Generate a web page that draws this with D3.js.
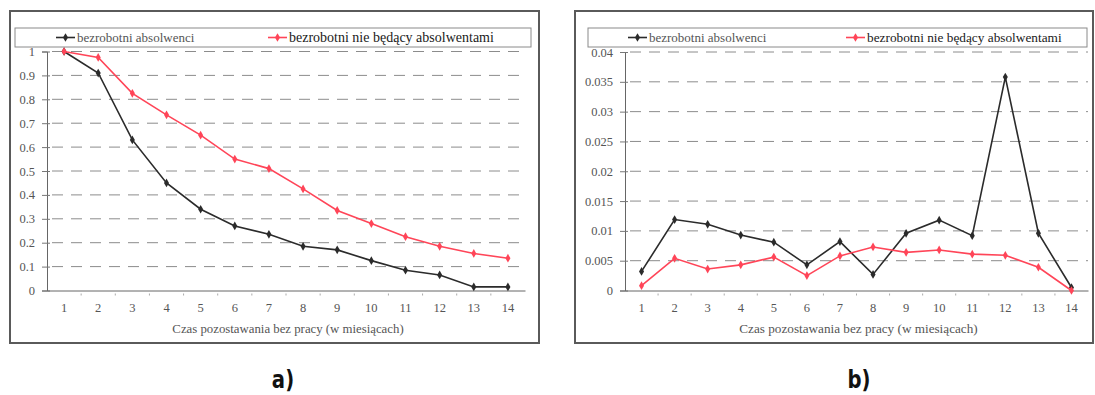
<!DOCTYPE html>
<html>
<head>
<meta charset="UTF-8">
<title>Bezrobotni - czas pozostawania bez pracy</title>
<script src="https://cdnjs.cloudflare.com/ajax/libs/d3/7.8.5/d3.min.js"></script>
<style>
  body { margin: 0; background: #fff; }
  svg { display: block; }
  .serif { font-family: "Liberation Serif", "Tinos", "Times New Roman", Times, serif; }
</style>
</head>
<body>
<script>
// months (x categories)
const months = d3.range(1, 15);

// panel a) – share still unemployed
const absolwenciA = [1.0, 0.91, 0.63, 0.45, 0.34, 0.27, 0.235, 0.185, 0.17, 0.125, 0.085, 0.065, 0.015, 0.015];
const nieAbsolwenciA = [1.0, 0.975, 0.825, 0.735, 0.65, 0.55, 0.51, 0.425, 0.335, 0.28, 0.225, 0.185, 0.155, 0.135];
const yTicksA = [0, 0.1, 0.2, 0.3, 0.4, 0.5, 0.6, 0.7, 0.8, 0.9, 1];

// panel b) – intensity of leaving unemployment
const absolwenciB = [0.0032, 0.0119, 0.0111, 0.0093, 0.0081, 0.0043, 0.0082, 0.0027, 0.0096, 0.0118, 0.0092, 0.0358, 0.0096, 0.0005];
const nieAbsolwenciB = [0.0008, 0.0054, 0.0036, 0.0043, 0.0056, 0.0025, 0.0058, 0.0073, 0.0064, 0.0068, 0.0061, 0.0059, 0.0039, 0.0];
const yTicksB = [0, 0.005, 0.01, 0.015, 0.02, 0.025, 0.03, 0.035, 0.04];

const seriesNames = ["bezrobotni absolwenci", "bezrobotni nie będący absolwentami"];
const seriesColors = ["#2b2b2b", "#ff4558"];
const xTitle = ["Czas pozostawania bez pracy (w miesiącach)", "Czas pozostawania bez pracy (w miesiącach)"];

const width = 1095, height = 395;

const svg = d3.select("body").append("svg")
  .attr("width", width)
  .attr("height", height);

function serifText(sel, size, fill) {
  return sel.attr("class", "serif").attr("font-family", null)
    .style("font-size", size + "px").attr("fill", fill);
}

function drawPanel(o) {
  const g = svg.append("g");

  // outer frame
  g.append("rect")
    .attr("x", o.frame[0]).attr("y", o.frame[1])
    .attr("width", o.frame[2]).attr("height", o.frame[3])
    .attr("fill", "#fff").attr("stroke", "#5a5a5a").attr("stroke-width", 2);

  // legend box
  g.append("rect")
    .attr("x", o.legend[0]).attr("y", o.legend[1])
    .attr("width", o.legend[2]).attr("height", o.legend[3])
    .attr("fill", "#fff").attr("stroke", "#8a8a8a").attr("stroke-width", 1);

  const x = d3.scaleBand().domain(months).range(o.xRange);
  const y = d3.scaleLinear().domain([0, d3.max(o.yTicks)]).range(o.yRange);
  const cx = d => x(d) + x.bandwidth() / 2;

  // dashed grid
  g.selectAll("line.grid")
    .data(o.yTicks.filter(t => t > 0))
    .join("line")
    .attr("class", "grid")
    .attr("x1", o.xRange[0] + 5).attr("x2", o.xRange[1])
    .attr("y1", d => y(d)).attr("y2", d => y(d))
    .attr("stroke", "#8c8c8c").attr("stroke-width", 1)
    .attr("stroke-dasharray", "11,8");

  // y axis
  const yAxis = d3.axisLeft(y).tickValues(o.yTicks).tickSize(5).tickPadding(7)
    .tickFormat(d => d === 0 ? "0" : String(+d.toFixed(3)));
  const ya = g.append("g").attr("transform", `translate(${o.xRange[0]},0)`).call(yAxis);
  ya.attr("font-family", null).attr("font-size", null);
  ya.select(".domain").attr("stroke", "#666");
  ya.selectAll(".tick line").attr("stroke", "#777").attr("x2", -5).attr("x1", 3);
  serifText(ya.selectAll(".tick text"), 12.5, "#555");

  // x axis
  const xAxis = d3.axisBottom(x).tickSize(0).tickPadding(13);
  const xa = g.append("g").attr("transform", `translate(0,${o.yRange[0]})`).call(xAxis);
  xa.attr("font-family", null).attr("font-size", null);
  xa.select(".domain").attr("stroke", "#666");
  serifText(xa.selectAll(".tick text"), 12.5, "#555");

  // minor ticks at category boundaries
  g.selectAll("line.minor")
    .data(months.slice(1))
    .join("line")
    .attr("class", "minor")
    .attr("x1", d => x(d)).attr("x2", d => x(d))
    .attr("y1", o.yRange[0] + 3).attr("y2", o.yRange[0] + 5)
    .attr("stroke", "#aaa");

  serifText(g.append("text"), o.titleSize, "#555")
    .attr("x", (o.xRange[0] + o.xRange[1]) / 2 + 2)
    .attr("y", o.yRange[0] + 42)
    .attr("text-anchor", "middle")
    .text(o.title);

  // series
  const line = d3.line().x((d, i) => cx(months[i])).y(d => y(d));
  const sym = d3.symbol().type(d3.symbolDiamond).size(22);
  o.series.forEach((vals, si) => {
    g.append("path")
      .datum(vals)
      .attr("d", line)
      .attr("fill", "none")
      .attr("stroke", seriesColors[si])
      .attr("stroke-width", 1.6);
    g.selectAll(null)
      .data(vals)
      .join("path")
      .attr("transform", (d, i) => `translate(${cx(months[i])},${y(d)})`)
      .attr("d", sym)
      .attr("fill", seriesColors[si]);
  });

  // legend entries
  o.legendPos.forEach((lx, si) => {
    const ly = o.legend[1] + o.legend[3] / 2;
    g.append("line")
      .attr("x1", lx).attr("x2", lx + 19)
      .attr("y1", ly).attr("y2", ly)
      .attr("stroke", seriesColors[si]).attr("stroke-width", 1.6);
    g.append("path")
      .attr("transform", `translate(${lx + 9.5},${ly})`)
      .attr("d", sym)
      .attr("fill", seriesColors[si]);
    serifText(g.append("text"), o.legendSize[si], si === 1 ? "#1a1a1a" : "#555")
      .attr("x", lx + 21).attr("y", ly + 4)
      .text(seriesNames[si]);
  });

  // panel label, condensed bold
  svg.append("text")
    .attr("transform", `translate(${o.labelX},388) scale(0.82,1)`)
    .attr("font-family", "'DejaVu Sans', sans-serif")
    .attr("font-weight", "bold")
    .attr("font-size", 24)
    .attr("fill", "#111")
    .attr("text-anchor", "middle")
    .text(o.label);
}

drawPanel({
  frame: [10, 11, 529, 332],
  legend: [15, 28, 516, 19],
  legendPos: [56, 268],
  legendSize: [13, 14],
  xRange: [47, 525],
  yRange: [290.5, 51.5],
  yTicks: yTicksA,
  series: [absolwenciA, nieAbsolwenciA],
  title: xTitle[0],
  titleSize: 12.8,
  label: "a)",
  labelX: 283
});

drawPanel({
  frame: [575, 11, 518, 332],
  legend: [588, 28, 499, 19],
  legendPos: [628, 846],
  legendSize: [13, 13.3],
  xRange: [625, 1088],
  yRange: [290.5, 52],
  yTicks: yTicksB,
  series: [absolwenciB, nieAbsolwenciB],
  title: xTitle[1],
  titleSize: 13.2,
  label: "b)",
  labelX: 859
});
</script>
</body>
</html>
